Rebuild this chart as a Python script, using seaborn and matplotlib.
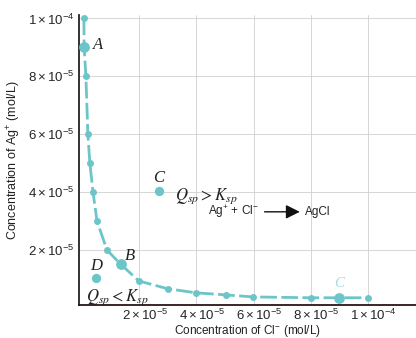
import matplotlib
matplotlib.use("Agg")
import matplotlib.pyplot as plt
from matplotlib.transforms import ScaledTranslation
import seaborn as sns
import pandas as pd

# Data (mol/L)
cl_curve = [0.05e-5, 0.06e-5, 0.12e-5, 0.19e-5, 0.26e-5, 0.37e-5, 0.51e-5, 0.86e-5,
            1.35e-5, 1.98e-5, 3.0e-5, 4.0e-5, 5.03e-5, 5.97e-5, 8.0e-5, 8.99e-5, 10.0e-5]
ag_curve = [10.0e-5, 9.0e-5, 8.0e-5, 6.0e-5, 5.0e-5, 4.0e-5, 3.0e-5, 2.0e-5,
            1.5e-5, 0.93e-5, 0.66e-5, 0.52e-5, 0.45e-5, 0.38e-5, 0.35e-5, 0.35e-5, 0.35e-5]
big_points = ["A", "B", "C'"]
big_idx = [1, 8, 15]
other_cl = [2.68e-5, 0.47e-5]   # C, D
other_ag = [4.04e-5, 1.04e-5]
x_ticks = [2e-5, 4e-5, 6e-5, 8e-5, 1e-4]
x_tick_labels = [r"$2\times10^{-5}$", r"$4\times10^{-5}$", r"$6\times10^{-5}$",
                 r"$8\times10^{-5}$", r"$1\times10^{-4}$"]
y_ticks = [2e-5, 4e-5, 6e-5, 8e-5, 1e-4]
y_tick_labels = x_tick_labels

sns.set_theme(style="white")
plt.rcParams["font.family"] = ["Liberation Sans", "DejaVu Sans"]
plt.rcParams["mathtext.fontset"] = "custom"
plt.rcParams["mathtext.rm"] = "Liberation Sans"
plt.rcParams["mathtext.it"] = "Liberation Sans:italic"

teal = "#6cc5c8"

fig = plt.figure(figsize=(4.16, 3.38), dpi=100)
ax = fig.add_axes([0.190, 0.0976, 0.810, 0.858])

df = pd.DataFrame({"cl": cl_curve, "ag": ag_curve})
sns.lineplot(data=df, x="cl", y="ag", ax=ax, color=teal, lw=2.0, sort=False,
             estimator=None, marker="o", markersize=5, markeredgewidth=0,
             linestyle=(0, (6, 1.6)))
big_df = pd.DataFrame({"cl": [cl_curve[i] for i in big_idx],
                       "ag": [ag_curve[i] for i in big_idx]})
sns.scatterplot(data=big_df, x="cl", y="ag", ax=ax, color=teal, s=60,
                linewidth=0, zorder=4)
oth = pd.DataFrame({"cl": other_cl, "ag": other_ag})
sns.scatterplot(data=oth, x="cl", y="ag", ax=ax, color=teal, s=45,
                linewidth=0, zorder=4)

ax.set_xlim(-0.12e-5, 11.7e-5)
ax.set_ylim(0.1e-5, 10.12e-5)
ax.set_xticks(x_ticks)
ax.set_xticklabels(x_tick_labels, fontsize=9.5)
ax.set_yticks(y_ticks)
ax.set_yticklabels(y_tick_labels, fontsize=9.5)
ax.tick_params(axis="x", length=0, pad=2)
ax.tick_params(axis="y", length=0, pad=3)
shift = ScaledTranslation(6 / 100, 0, fig.dpi_scale_trans)
for lab in ax.get_xticklabels():
    lab.set_transform(lab.get_transform() + shift)
ax.grid(True, color="#d0d0d0", lw=0.6)
for s in ["top", "right"]:
    ax.spines[s].set_visible(False)
ax.spines["left"].set_color("#222222")
ax.spines["bottom"].set_color("#2a1515")
ax.spines["left"].set_linewidth(1.3)
ax.spines["bottom"].set_linewidth(1.3)

ax.set_xlabel(r"Concentration of Cl$^{-}$ (mol/L)", fontsize=8.5, labelpad=0, color="#222222")
ax.set_ylabel(r"Concentration of Ag$^{+}$ (mol/L)", fontsize=9, labelpad=4, color="#222222")

serif = dict(family="Liberation Serif", style="italic", fontsize=12, color="#222222")
ax.text(0.54e-5, 9.08e-5, "A", ha="center", va="center", **serif)
ax.text(1.66e-5, 1.80e-5, "B", ha="center", va="center", **serif)
ax.text(2.68e-5, 4.49e-5, "C", ha="center", va="center", **serif)
ax.text(0.47e-5, 1.45e-5, "D", ha="center", va="center", **serif)
ax.text(8.99e-5, 0.86e-5, "C", ha="center", va="center", family="Liberation Serif",
        style="italic", fontsize=11, color="#a9dcdc")

ax.text(3.24e-5, 3.87e-5, r"$Q_{sp} > K_{sp}$", ha="left", va="center",
        fontsize=12, math_fontfamily="stix", color="#222222")
ax.text(0.12e-5, 0.38e-5, r"$Q_{sp} < K_{sp}$", ha="left", va="center",
        fontsize=12, math_fontfamily="stix", color="#222222")
ax.text(4.40e-5, 3.32e-5, r"Ag$^{+}$ + Cl$^{-}$", ha="left", va="center",
        fontsize=8.5, color="#222222")
ax.annotate("", xy=(7.72e-5, 3.32e-5), xytext=(6.29e-5, 3.32e-5),
            arrowprops=dict(arrowstyle="-|>,head_length=0.7,head_width=0.35",
                            color="#111111", lw=1.0))
ax.text(7.82e-5, 3.32e-5, "AgCl", ha="left", va="center", fontsize=8.5, color="#222222")

fig.savefig("out.png", dpi=100)
